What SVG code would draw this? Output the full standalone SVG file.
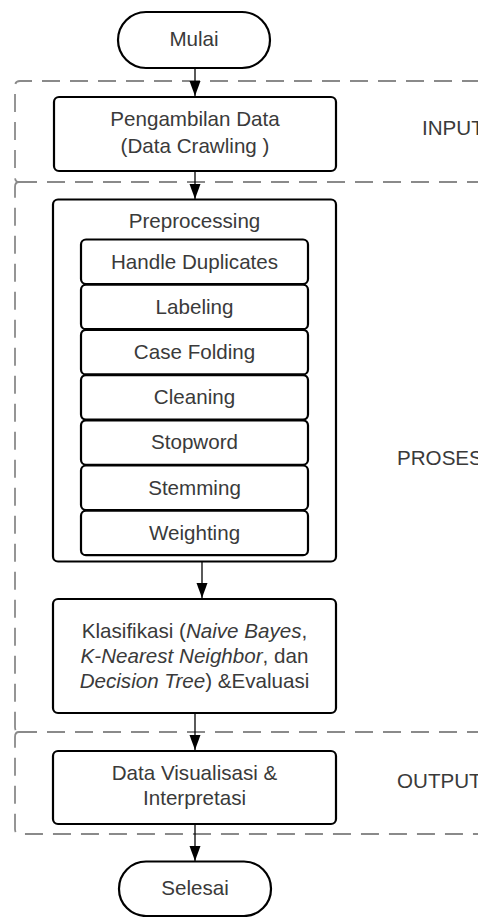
<svg xmlns="http://www.w3.org/2000/svg" width="478" height="917" viewBox="0 0 478 917">
<style>
.box{fill:#fff;stroke:#000;stroke-width:2.2}
.lane{fill:none;stroke:#8a8a8a;stroke-width:1.8;stroke-dasharray:18 10}
.t{font-family:"Liberation Sans",Arial,sans-serif;font-size:20.6px;fill:#3a3a3a;text-anchor:middle}
.lbl{font-family:"Liberation Sans",Arial,sans-serif;font-size:20.6px;fill:#3a3a3a}
.con{fill:none;stroke:#000;stroke-width:1.3}
</style>
<defs>
<marker id="arr" markerUnits="userSpaceOnUse" markerWidth="16" markerHeight="12" refX="15" refY="6" orient="auto">
<path d="M0,0.5 L15,6 L0,11.5 z" fill="#000"/>
</marker>
</defs>
<rect width="478" height="917" fill="#fff"/>
<g id="lanes">
<path class="lane" d="M480,81 H20 Q15,81 15,86 V177 Q15,182 19,182"/>
<path class="lane" d="M19,182 H480"/>
<path class="lane" d="M19,182 Q15,182 15,187 V727 Q15,732 19,732"/>
<path class="lane" d="M19,732 H480"/>
<path class="lane" d="M19,732 Q15,732 15,737 V829 Q15,834 20,834 H480"/>
<text class="lbl" x="422" y="135">INPUT</text>
<text class="lbl" x="397" y="465">PROSES</text>
<text class="lbl" x="397" y="788">OUTPUT</text>
</g>
<g id="connectors">
<path class="con" d="M195,68 V96" marker-end="url(#arr)"/>
<path class="con" d="M195,171 V199" marker-end="url(#arr)"/>
<path class="con" d="M202,562 V598" marker-end="url(#arr)"/>
<path class="con" d="M195,713 V750" marker-end="url(#arr)"/>
<path class="con" d="M195,824 V861" marker-end="url(#arr)"/>
</g>
<g id="mulai">
<rect class="box" x="118" y="12" width="152" height="56" rx="28"/>
<text class="t" x="194" y="46">Mulai</text>
</g>
<g id="pengambilan">
<rect class="box" x="54" y="97" width="282" height="74" rx="5"/>
<text class="t" x="195" y="126">Pengambilan Data</text>
<text class="t" x="195" y="153">(Data Crawling )</text>
</g>
<g id="preprocessing">
<rect class="box" x="53" y="199.5" width="283" height="362" rx="5"/>
<text class="t" x="194.5" y="228">Preprocessing</text>
</g>
<g id="handle-duplicates">
<rect class="box" x="81" y="239.5" width="227" height="44.5" rx="5"/>
<text class="t" x="194.5" y="268.5">Handle Duplicates</text>
</g>
<g id="labeling">
<rect class="box" x="81" y="284.7" width="227" height="44.5" rx="5"/>
<text class="t" x="194.5" y="313.7">Labeling</text>
</g>
<g id="case-folding">
<rect class="box" x="81" y="329.9" width="227" height="44.5" rx="5"/>
<text class="t" x="194.5" y="358.9">Case Folding</text>
</g>
<g id="cleaning">
<rect class="box" x="81" y="375.1" width="227" height="44.5" rx="5"/>
<text class="t" x="194.5" y="404.1">Cleaning</text>
</g>
<g id="stopword">
<rect class="box" x="81" y="420.3" width="227" height="44.5" rx="5"/>
<text class="t" x="194.5" y="449.3">Stopword</text>
</g>
<g id="stemming">
<rect class="box" x="81" y="465.5" width="227" height="44.5" rx="5"/>
<text class="t" x="194.5" y="494.5">Stemming</text>
</g>
<g id="weighting">
<rect class="box" x="81" y="510.7" width="227" height="44.5" rx="5"/>
<text class="t" x="194.5" y="539.7">Weighting</text>
</g>
<g id="klasifikasi">
<rect class="box" x="53" y="599" width="283" height="114" rx="5"/>
<text class="t" x="194.5" y="638">Klasifikasi (<tspan font-style="italic">Naive Bayes</tspan>,</text>
<text class="t" x="194.5" y="663"><tspan font-style="italic">K-Nearest Neighbor</tspan>, dan</text>
<text class="t" x="194.5" y="688"><tspan font-style="italic">Decision Tree</tspan>) &amp;Evaluasi</text>
</g>
<g id="visualisasi">
<rect class="box" x="53" y="751" width="283" height="73" rx="5"/>
<text class="t" x="194.5" y="780">Data Visualisasi &amp;</text>
<text class="t" x="194.5" y="805">Interpretasi</text>
</g>
<g id="selesai">
<rect class="box" x="119" y="861.5" width="152" height="54.5" rx="27"/>
<text class="t" x="195" y="895">Selesai</text>
</g>
</svg>
